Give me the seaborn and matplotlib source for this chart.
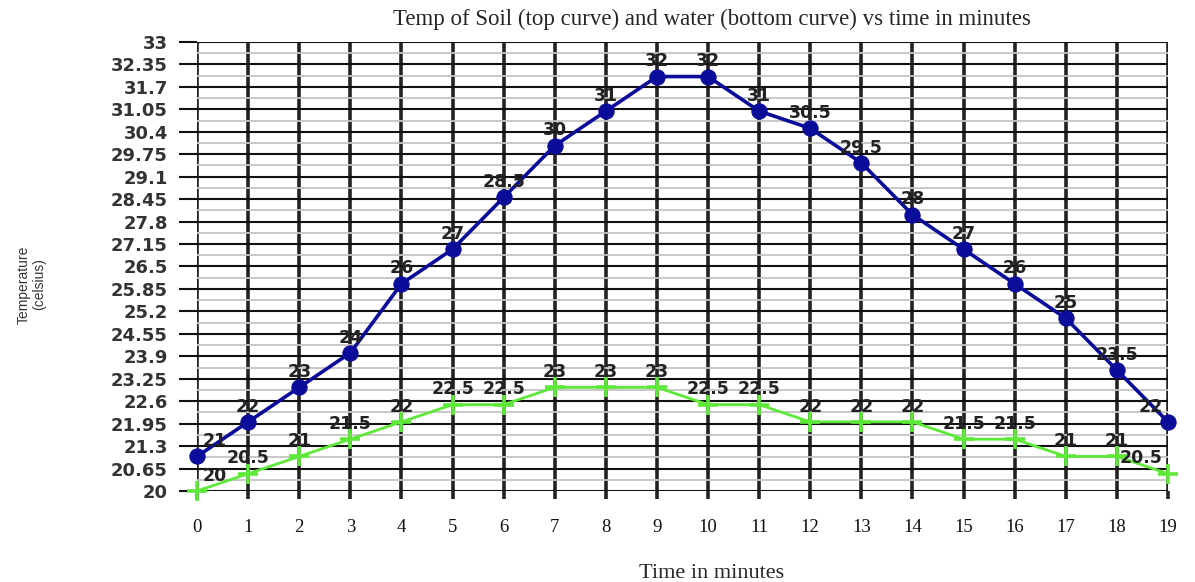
import numpy as np
import pandas as pd
import matplotlib
matplotlib.use("Agg")
import matplotlib.pyplot as plt
import seaborn as sns
from matplotlib.ticker import FixedLocator

# ---------------------------------------------------
# DATA
# ---------------------------------------------------

minutes = list(range(20))
soil = [21, 22, 23, 24, 26, 27, 28.5, 30, 31, 32,
        32, 31, 30.5, 29.5, 28, 27, 26, 25, 23.5, 22]
water = [20, 20.5, 21, 21.5, 22, 22.5, 22.5, 23, 23, 23,
         22.5, 22.5, 22, 22, 22, 21.5, 21.5, 21, 21, 20.5]
y_ticks = [20, 20.65, 21.3, 21.95, 22.6, 23.25, 23.9, 24.55, 25.2, 25.85, 26.5,
           27.15, 27.8, 28.45, 29.1, 29.75, 30.4, 31.05, 31.7, 32.35, 33]

df_soil = pd.DataFrame({"Time": minutes, "Temp": soil})
df_water = pd.DataFrame({"Time": minutes, "Temp": water})

# ---------------------------------------------------
# STYLE
# ---------------------------------------------------

sns.set_style("white")
plt.rcParams["font.family"] = ["DejaVu Sans"]

fig, ax = plt.subplots(figsize=(11.95, 5.82), dpi=100)
fig.subplots_adjust(left=0.1649, right=0.9774, top=0.9278, bottom=0.1564)

# grid: thick vertical lines, black major + gray minor horizontals
ax.set_axisbelow(True)
ax.set_xticks(minutes, [str(m) for m in minutes], fontsize=13.5,
              family="Liberation Serif", color="#111111")
ax.set_yticks(y_ticks, [f"{t:g}" for t in y_ticks], fontsize=13,
              fontweight="bold", color="#333333")
ax.yaxis.set_minor_locator(FixedLocator([t + 0.325 for t in y_ticks[:-1]]))
ax.set_xlim(0, 19)
ax.set_ylim(20, 33)

ax.grid(axis="x", which="major", color="#222222", linewidth=2.6)
ax.grid(axis="y", which="major", color="#111111", linewidth=1.5)
ax.grid(axis="y", which="minor", color="#c4c4c4", linewidth=1.3)
for s in ax.spines.values():
    s.set_visible(False)

ax.tick_params(axis="y", which="major", direction="out", length=13,
               width=1.5, color="#111111", pad=8, left=True)
ax.tick_params(axis="y", which="minor", length=0)
ax.tick_params(axis="x", which="major", direction="out", length=6,
               width=2.6, color="#222222", pad=14, bottom=True)

# ---------------------------------------------------
# LINES
# ---------------------------------------------------

sns.lineplot(data=df_water, x="Time", y="Temp", ax=ax, color="#5ee83a",
             linewidth=2, marker="+", markersize=15, markeredgewidth=2.6,
             markeredgecolor="#5ee83a", clip_on=False, zorder=3)
sns.lineplot(data=df_soil, x="Time", y="Temp", ax=ax, color="#0c0c9a",
             linewidth=2.6, marker="o", markersize=11,
             markeredgecolor="#0c0c9a", clip_on=False, zorder=4)

# data labels
for series in (soil, water):
    for m, v in zip(minutes, series):
        if m == 0:
            ha, dx = "left", 4
        elif m == minutes[-1]:
            ha, dx = "right", -4
        else:
            ha, dx = "center", 0
        ax.annotate(f"{v:g}", (m, v), xytext=(dx, 11),
                    textcoords="offset points", ha=ha, va="center",
                    fontsize=12.5, fontweight="bold", color="#222222",
                    zorder=5, annotation_clip=False)

# ---------------------------------------------------
# TEXT
# ---------------------------------------------------

ax.set_title("Temp of Soil (top curve) and water (bottom curve) vs time in minutes",
             family="Liberation Serif", fontsize=16.5, pad=12, x=0.53)
ax.set_xlabel("Time in minutes", family="Liberation Serif", fontsize=16)
ax.xaxis.set_label_coords(0.53, -0.163)
ax.set_ylabel("Temperature\n(celsius)", family="Liberation Sans",
              fontsize=10, color="#333333", linespacing=1.2)
ax.yaxis.set_label_coords(-0.155, 0.46)

plt.savefig("out.png", dpi=100)
